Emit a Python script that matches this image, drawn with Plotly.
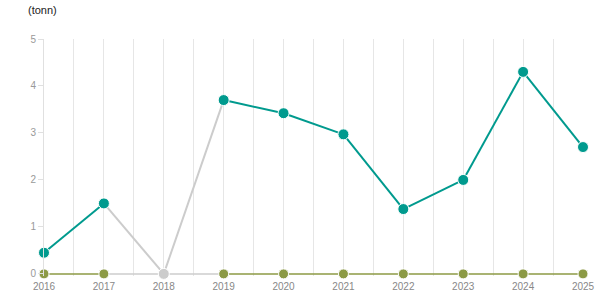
import plotly.graph_objects as go

years = [2016, 2017, 2018, 2019, 2020, 2021, 2022, 2023, 2024, 2025]
series_a = [0.45, 1.5, 0, 3.7, 3.42, 2.97, 1.38, 2.0, 4.3, 2.7]
series_b = [0, 0, 0, 0, 0, 0, 0, 0, 0, 0]
missing_years = [2018]
y_ticks = [0, 1, 2, 3, 4, 5]
unit_label = "(tonn)"

TEAL = "#009a8e"
OLIVE = "#8c9a45"
GRAY = "#cccccc"

fig = go.Figure()


def add_series(vals, color, lw, msize):
    norm_x, norm_y, gray_x, gray_y = [], [], [], []
    for i in range(len(years) - 1):
        x0, x1 = years[i], years[i + 1]
        y0, y1 = vals[i], vals[i + 1]
        if x0 in missing_years or x1 in missing_years:
            gray_x += [x0, x1, None]
            gray_y += [y0, y1, None]
        else:
            norm_x += [x0, x1, None]
            norm_y += [y0, y1, None]
    fig.add_trace(go.Scatter(x=gray_x, y=gray_y, mode="lines",
                             line=dict(color=GRAY, width=lw), cliponaxis=False,
                             hoverinfo="skip", showlegend=False))
    fig.add_trace(go.Scatter(x=norm_x, y=norm_y, mode="lines",
                             line=dict(color=color, width=lw), cliponaxis=False,
                             hoverinfo="skip", showlegend=False))
    mcolors = [GRAY if x in missing_years else color for x in years]
    fig.add_trace(go.Scatter(x=years, y=vals, mode="markers",
                             marker=dict(color=mcolors, size=msize,
                                         line=dict(color="white", width=1)),
                             cliponaxis=False, showlegend=False))


add_series(series_b, OLIVE, 1.5, 10)
add_series(series_a, TEAL, 2, 11)

fig.update_layout(
    width=615, height=305,
    margin=dict(l=44, r=32, t=39, b=29),
    plot_bgcolor="white", paper_bgcolor="white",
    font=dict(family="Arial, Liberation Sans, sans-serif", size=10, color="#888888"),
    annotations=[dict(text=unit_label, xref="paper", yref="paper",
                      x=0, xshift=-18, y=1.0, yshift=37,
                      xanchor="left", yanchor="top", showarrow=False,
                      font=dict(size=11, color="#222222"))],
)

fig.update_xaxes(
    range=[2016, 2025], tickmode="array", tickvals=years,
    ticktext=[str(y) for y in years],
    showgrid=True, gridcolor="#e6e6e6", gridwidth=1,
    minor=dict(dtick=0.5, tick0=2016, showgrid=True, gridcolor="#e6e6e6"),
    showline=False, zeroline=False, ticks="", ticklabelstandoff=3,
    tickfont=dict(size=10, color="#888888"),
)
fig.update_yaxes(
    range=[-0.045, 5], tickmode="array", tickvals=y_ticks,
    showgrid=False, zeroline=False,
    showline=True, linecolor="#e0e0e0", linewidth=1,
    ticks="outside", ticklen=5, tickcolor="#e0e0e0",
    tickfont=dict(size=10, color="#999999"),
)

fig.write_html("out.html")
